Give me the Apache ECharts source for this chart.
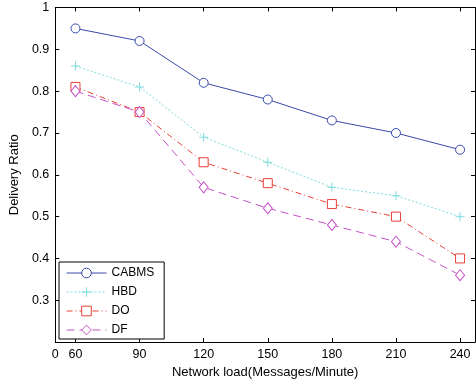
<!DOCTYPE html>
<html>
<head>
<meta charset="utf-8">
<script src="https://cdn.jsdelivr.net/npm/echarts@6/dist/echarts.min.js"></script>
<style>
  html, body { margin: 0; padding: 0; background: #fff; }
  #chart { width: 476px; height: 384px; }
</style>
</head>
<body>
<div id="chart"></div>
<script>
// Network load levels (messages per minute), plotted at evenly spaced positions
const loads = [60, 90, 120, 150, 180, 210, 240];

// Delivery ratio per protocol
const cabms = [0.95, 0.92, 0.82, 0.78, 0.73, 0.70, 0.66];
const hbd   = [0.86, 0.81, 0.69, 0.63, 0.57, 0.55, 0.50];
const dO    = [0.81, 0.75, 0.63, 0.58, 0.53, 0.50, 0.40];
const df    = [0.80, 0.75, 0.57, 0.52, 0.48, 0.44, 0.36];

const seriesNames = ['CABMS', 'HBD', 'DO', 'DF'];
const seriesColors = ['#3a4aaa', '#80dcdc', '#e8403a', '#c652c8'];

const X_MIN = 0.685, X_MAX = 7.233;
const positions = loads.map((_, i) => i + 1);
const pts = arr => arr.map((v, i) => [positions[i], v]);

const FONT = '"Liberation Sans", Arial, sans-serif';
const PLUS = 'path://M4,0h1v4h4v1h-4v4h-1v-4h-4v-1h4z';

const chart = echarts.init(document.getElementById('chart'), null, { renderer: 'canvas' });

const baseX = {
  type: 'value', min: X_MIN, max: X_MAX,
  axisLine: { show: true, onZero: false, lineStyle: { color: '#000', width: 1 } },
  axisTick: { show: true, inside: true, length: 4, customValues: positions, lineStyle: { color: '#000' } },
  splitLine: { show: false }
};
const baseY = {
  type: 'value', min: 0.2, max: 1, interval: 0.1,
  axisLine: { show: true, onZero: false, lineStyle: { color: '#000', width: 1 } },
  axisTick: { show: true, inside: true, length: 4, lineStyle: { color: '#000' } },
  splitLine: { show: false }
};

// Hollow markers drawn with a thin outline and white fill
const hollow = c => ({ color: '#fff', borderColor: c, borderWidth: 1 });

const legendItems = seriesNames.map((n, i) => ({
  name: n,
  itemStyle: i === 1 ? { color: seriesColors[i], borderWidth: 0 } : hollow(seriesColors[i]),
  lineStyle: { color: seriesColors[i], width: 1 }
}));

chart.setOption({
  animation: false,
  backgroundColor: '#fff',
  textStyle: { fontFamily: FONT },
  grid: { left: 53, top: 7.5, right: 1, bottom: 39, containLabel: false },
  xAxis: [
    Object.assign({}, baseX, {
      position: 'bottom',
      name: 'Network load(Messages/Minute)',
      nameLocation: 'middle', nameGap: 20,
      nameTextStyle: { color: '#000', fontSize: 13, fontFamily: FONT },
      axisLabel: {
        show: true, color: '#000', fontSize: 12.5, fontFamily: FONT, margin: 6,
        customValues: [X_MIN].concat(positions),
        formatter: v => (Math.abs(v - X_MIN) < 1e-6 ? '0' : String(loads[Math.round(v) - 1]))
      }
    }),
    Object.assign({}, baseX, { position: 'top', axisLabel: { show: false } })
  ],
  yAxis: [
    Object.assign({}, baseY, {
      position: 'left',
      name: 'Delivery Ratio',
      nameLocation: 'middle', nameGap: 29, nameRotate: 90,
      nameTextStyle: { color: '#000', fontSize: 13, fontFamily: FONT },
      axisLabel: {
        show: true, color: '#000', fontSize: 12.5, fontFamily: FONT, margin: 6,
        formatter: v => {
          if (Math.abs(v - 0.2) < 1e-6) return '';
          if (Math.abs(v - 1) < 1e-6) return '1';
          return v.toFixed(1);
        }
      }
    }),
    Object.assign({}, baseY, { position: 'right', axisLabel: { show: false } })
  ],
  legend: {
    orient: 'vertical',
    left: 59, top: 262,
    padding: [5, 10, 3, 7],
    itemGap: 7,
    itemWidth: 40, itemHeight: 12,
    borderColor: '#000', borderWidth: 1, borderRadius: 0,
    backgroundColor: '#fff',
    itemStyle: { borderWidth: 1 },
    lineStyle: { width: 1 },
    textStyle: { color: '#000', fontSize: 12, fontFamily: FONT },
    data: legendItems
  },
  series: [
    {
      name: seriesNames[0], type: 'line', data: pts(cabms),
      symbol: 'circle', symbolSize: 9,
      lineStyle: { color: seriesColors[0], width: 1, type: 'solid' },
      itemStyle: hollow(seriesColors[0])
    },
    {
      name: seriesNames[1], type: 'line', data: pts(hbd),
      symbol: PLUS, symbolSize: 9,
      lineStyle: { color: seriesColors[1], width: 1, type: [2, 2] },
      itemStyle: { color: seriesColors[1], borderWidth: 0 }
    },
    {
      name: seriesNames[2], type: 'line', data: pts(dO),
      symbol: 'rect', symbolSize: 9,
      lineStyle: { color: seriesColors[2], width: 1, type: [6, 3, 1, 3] },
      itemStyle: hollow(seriesColors[2])
    },
    {
      name: seriesNames[3], type: 'line', data: pts(df),
      symbol: 'diamond', symbolSize: [9, 11],
      lineStyle: { color: seriesColors[3], width: 1, type: [8, 5] },
      itemStyle: hollow(seriesColors[3])
    }
  ]
});
</script>
</body>
</html>
